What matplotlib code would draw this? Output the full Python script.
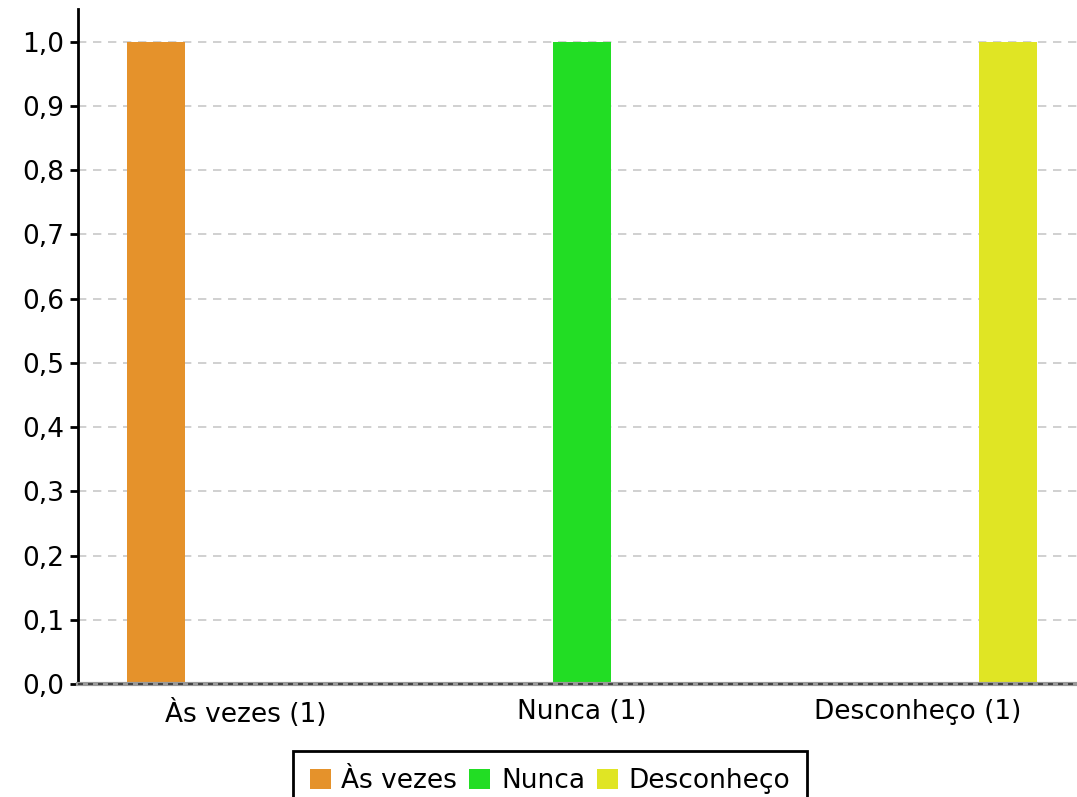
import matplotlib
matplotlib.use("Agg")
import matplotlib.pyplot as plt
import numpy as np
from matplotlib.patches import Patch

categories = ["Às vezes (1)", "Nunca (1)", "Desconheço (1)"]
series_names = ["Às vezes", "Nunca", "Desconheço"]
series_values = [
    [1, 0, 0],
    [0, 1, 0],
    [0, 0, 1],
]
colors = ["#E5922B", "#22DD24", "#E0E524"]
yticks = [0.0, 0.1, 0.2, 0.3, 0.4, 0.5, 0.6, 0.7, 0.8, 0.9, 1.0]
ytick_labels = ["0,0", "0,1", "0,2", "0,3", "0,4", "0,5", "0,6", "0,7", "0,8", "0,9", "1,0"]

plt.rcParams['font.family'] = ['DejaVu Sans']
fs = 19

fig = plt.figure(figsize=(10.77, 7.97), dpi=100)
ax = fig.add_axes([78/1077, (797-684)/797, (1086-78)/1077, (684-9)/797])

x = np.arange(len(categories))
width = 0.17
offset = 0.268
for i, (name, vals) in enumerate(zip(series_names, series_values)):
    ax.bar(x + (i - 1) * offset, vals, width, color=colors[i], zorder=2, label=name)

ax.set_xlim(-0.5, 2.5)
ax.set_ylim(0, 1.051)
ax.set_yticks(yticks)
ax.set_yticklabels(ytick_labels, fontsize=fs)
ax.set_xticks(x)
ax.set_xticklabels(categories, fontsize=fs)
ax.tick_params(axis='x', length=0, pad=11)
ax.tick_params(axis='y', length=6, width=2, pad=4)

for t in yticks[1:]:
    ax.axhline(t, color="#c8c8c8", linestyle=(0, (5, 4)), linewidth=1.2, zorder=1)
ax.axhline(0, color="#999999", linewidth=3, zorder=3, clip_on=False)
ax.axhline(0, color="#333333", linestyle=(0, (3, 3)), linewidth=1.2, zorder=4, clip_on=False)

for s in ["top", "right", "bottom"]:
    ax.spines[s].set_visible(False)
ax.spines["left"].set_linewidth(2)

handles = [Patch(facecolor=c, edgecolor='none') for c in colors]
leg = fig.legend(handles, series_names, loc="upper center",
                 bbox_to_anchor=(550/1077, 1 - 751/797), ncol=3, fontsize=fs,
                 frameon=True, fancybox=False, framealpha=1,
                 handlelength=0.8, handleheight=0.8,
                 handletextpad=0.4, columnspacing=0.45, borderpad=0.65,
                 borderaxespad=0)
leg.get_frame().set_edgecolor("black")
leg.get_frame().set_linewidth(2)

fig.savefig("out.png", dpi=100)
